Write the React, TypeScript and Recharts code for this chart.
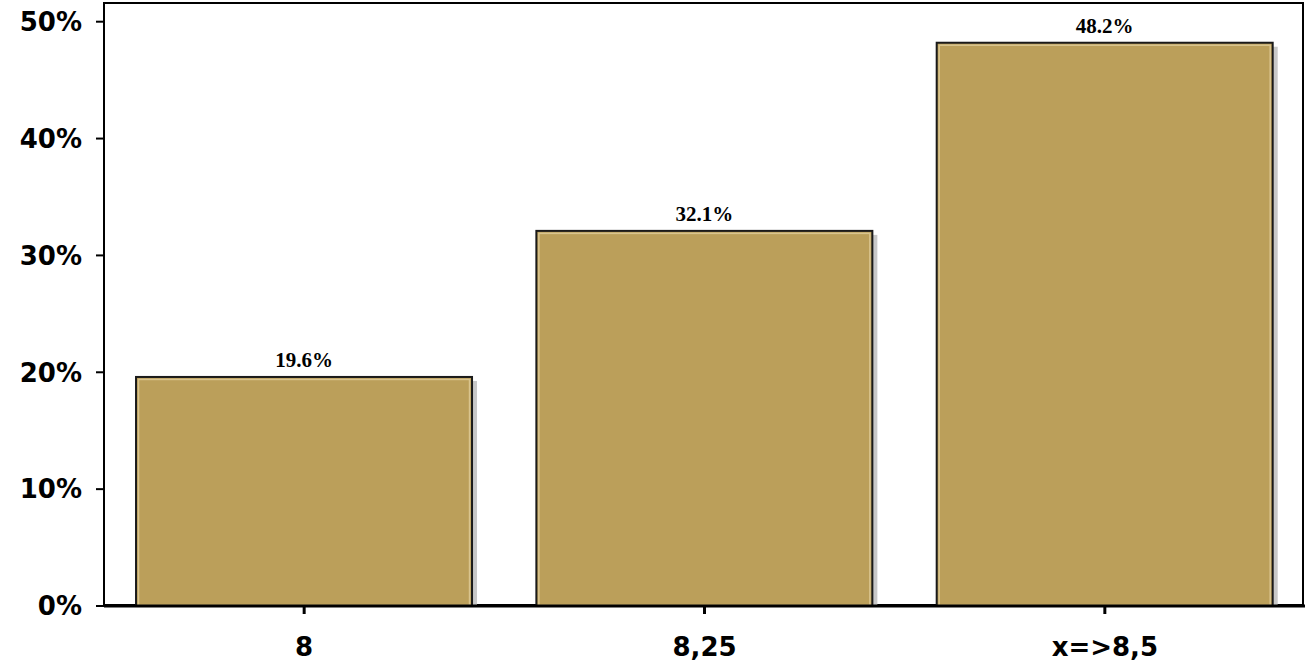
import React from "react";
import { BarChart, Bar, XAxis, YAxis, LabelList } from "recharts";

const categories = ["8", "8,25", "x=>8,5"];
const shares = [19.6, 32.1, 48.2];
const yTicks = [0, 10, 20, 30, 40, 50];

const data = categories.map((name, i) => ({ name, value: shares[i] }));

const BarShape = (props: any) => {
  const { x, y, width, height } = props;
  return (
    <g>
      <rect x={x + 5} y={y + 4} width={width} height={height - 4} fill="#c8c8c8" />
      <rect x={x} y={y} width={width} height={height} fill="#bb9f5a" stroke="#1a1a1a" strokeWidth={2} />
      <rect x={x + 2.5} y={y + 2.5} width={width - 5} height={height - 3} fill="none" stroke="#d9c48e" strokeWidth={1.5} />
    </g>
  );
};

const App: React.FC = () => {
  return (
    <div style={{ position: "absolute", left: 0, top: 0, width: 1307, height: 671, background: "#fff" }}>
      <div
        style={{
          position: "absolute",
          left: 103,
          top: 2,
          width: 1201,
          height: 604,
          border: "2px solid #000",
          boxSizing: "border-box",
          pointerEvents: "none",
        }}
      />
      <BarChart
        width={1307}
        height={671}
        data={data}
        margin={{ top: 3, right: 2, left: 0, bottom: 5 }}
        barCategoryGap="8%"
      >
        <XAxis
          dataKey="name"
          height={60}
          stroke="#000"
          strokeWidth={3}
          tickSize={8}
          tick={{ fill: "#000", fontSize: 26, fontWeight: "bold", fontFamily: "DejaVu Sans" }}
          tickMargin={24}
        />
        <YAxis
          domain={[0, 51.6]}
          ticks={yTicks}
          width={104}
          stroke="#000"
          strokeWidth={2}
          tickSize={8}
          tickMargin={14}
          tickFormatter={(v) => `${v}%`}
          tick={{ fill: "#000", fontSize: 26, fontWeight: "bold", fontFamily: "DejaVu Sans" }}
          allowDataOverflow
        />
        <Bar dataKey="value" shape={BarShape} isAnimationActive={false}>
          <LabelList
            dataKey="value"
            position="top"
            offset={10}
            formatter={(v: any) => `${Number(v).toFixed(1)}%`}
            style={{ fill: "#000", fontSize: 21, fontWeight: "bold", fontFamily: "Liberation Serif" }}
          />
        </Bar>
      </BarChart>
    </div>
  );
};

export default App;
